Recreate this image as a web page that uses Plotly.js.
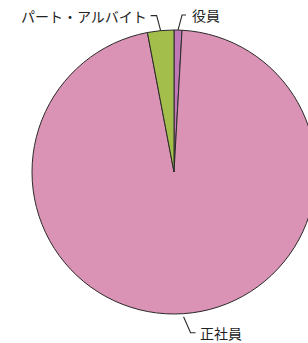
<!DOCTYPE html>
<html>
<head>
<meta charset="utf-8">
<script src="https://cdn.plot.ly/plotly-3.0.1.min.js"></script>
<style>
html,body{margin:0;padding:0;overflow:hidden;background:#fff;width:308px;height:343px;}
#chart{width:316px;height:343px;}
</style>
</head>
<body>
<div id="chart"></div>
<script>
// Data (clockwise from 12 o'clock)
const categories = ["役員", "正社員", "パート・アルバイト"];
const values = [0.9, 96.1, 3.0];
const colors = ["#BF79B6", "#DA93B4", "#A4BE4C"];

// Layout geometry
const W = 316, H = 343;
const M = {l: 32, r: 0, t: 30, b: 29};
const pw = W - M.l - M.r, ph = H - M.t - M.b;
const R = Math.min(pw, ph) / 2;
const cx = M.l + pw / 2, cy = M.t + ph / 2;
const px2x = px => (px - M.l) / pw;
const py2y = py => 1 - (py - M.t) / ph;

// label leader offsets (start offset outside arc; elbow dx,dy; horizontal run; text gap)
const leader = {
  "役員": {out: 0, dx: 4, dy: -15, run: 4, side: 1, gap: 4},
  "正社員": {out: 3, dx: 7, dy: 16, run: 5, side: 1, gap: 2},
  "パート・アルバイト": {out: 0, dx: -4, dy: -15, run: -6, side: -1, gap: 2}
};

const total = values.reduce((a, b) => a + b, 0);
const shapes = [], annotations = [];
let acc = 0;
values.forEach((v, i) => {
  const mid = (acc + v / 2) / total * 2 * Math.PI;
  acc += v;
  const L = leader[categories[i]];
  const ax = cx + (R + L.out) * Math.sin(mid), ay = cy - (R + L.out) * Math.cos(mid);
  const ex = ax + L.dx, ey = ay + L.dy;
  const hx = ex + L.run;
  shapes.push({
    type: "path", xref: "paper", yref: "paper",
    path: `M ${px2x(ax)} ${py2y(ay)} L ${px2x(ex)} ${py2y(ey)} L ${px2x(hx)} ${py2y(ey)}`,
    line: {color: "#2a2a2a", width: 1.1}
  });
  annotations.push({
    xref: "paper", yref: "paper",
    x: px2x(hx + L.side * L.gap), y: py2y(ey),
    xanchor: L.side > 0 ? "left" : "right", yanchor: "middle",
    text: categories[i], showarrow: false,
    font: {family: "Noto Sans CJK JP", size: 14, color: "#222222"}
  });
});

const data = [{
  type: "pie",
  labels: categories,
  values: values,
  sort: false,
  direction: "clockwise",
  rotation: 0,
  textinfo: "none",
  hoverinfo: "none",
  marker: {colors: colors, line: {color: "#2a2a2a", width: 1}},
  domain: {x: [0, 1], y: [0, 1]}
}];

const layout = {
  width: W, height: H,
  margin: M,
  showlegend: false,
  paper_bgcolor: "#ffffff",
  shapes: shapes,
  annotations: annotations,
  font: {family: "Noto Sans CJK JP"}
};

Plotly.newPlot("chart", data, layout, {staticPlot: true, responsive: false});
</script>
</body>
</html>
